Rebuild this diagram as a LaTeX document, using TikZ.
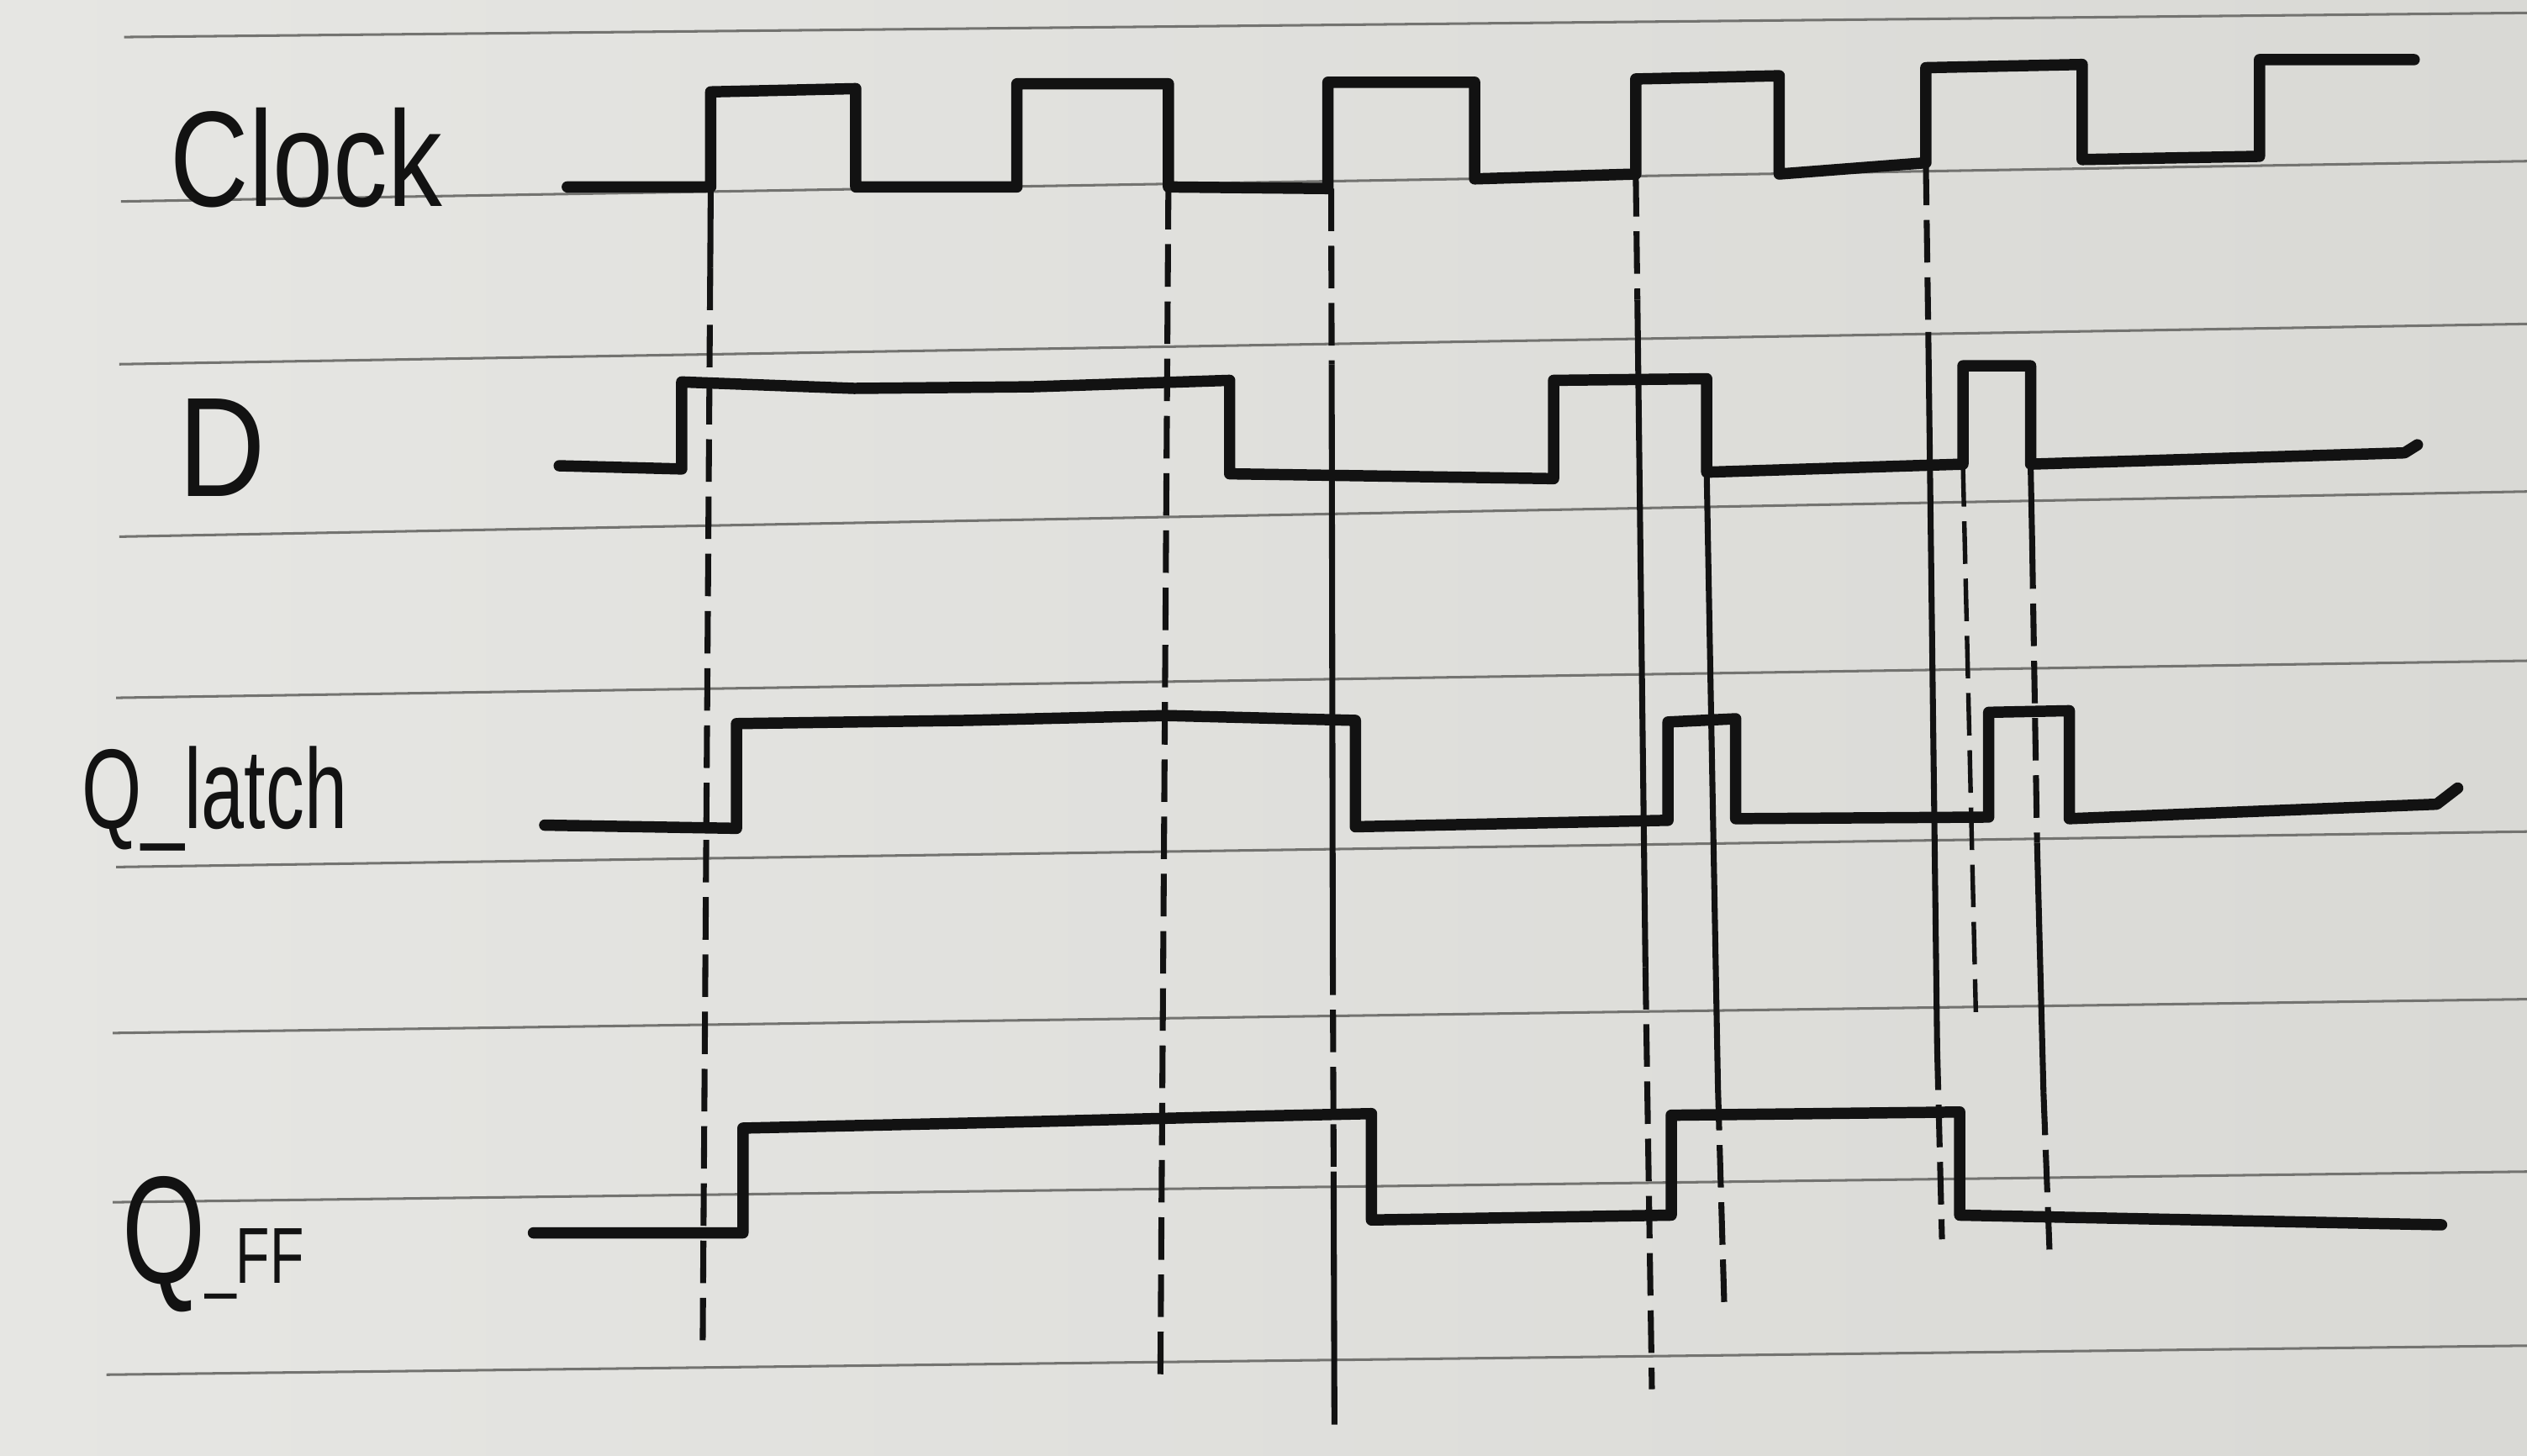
\documentclass[tikz,border=0pt]{standalone}
\usepackage{fontspec}
\setmainfont{Liberation Sans}
\definecolor{paperL}{RGB}{230,230,227}
\definecolor{paperR}{RGB}{217,217,213}
\definecolor{rulegray}{RGB}{115,115,112}
\definecolor{ink}{RGB}{18,18,18}
\begin{document}
\begin{tikzpicture}[x=0.01cm,y=-0.01cm,
  rule/.style={draw=rulegray,line width=0.45pt},
  wave/.style={draw=ink,line width=2pt,line join=round,line cap=round},
  guide/.style={draw=ink,line width=1.05pt,dash pattern=on 7.5pt off 2.6pt},
  guidesolid/.style={draw=ink,line width=1.05pt},
  lbl/.style={text=ink,inner sep=0pt,anchor=base west}]
\useasboundingbox (0,0) rectangle (1568,903);
\fill[left color=paperL,right color=paperR] (0,0) rectangle (1568,903);
% ruled lines
\draw[rule] (77,23) -- (1568,8);
\draw[rule] (75,125) -- (1568,100);
\draw[rule] (74,226) -- (1568,201);
\draw[rule] (74,333) -- (1568,305);
\draw[rule] (72,433) -- (1568,410);
\draw[rule] (72,538) -- (1568,516);
\draw[rule] (70,641) -- (1568,620);
\draw[rule] (70,746) -- (1568,727);
\draw[rule] (66,853) -- (1568,835);
% labels
\node[lbl] (lclk) at (105,128) {\scalebox{0.8}[1]{\fontsize{24}{24}\selectfont Clock}};
\node[lbl] (ld) at (110,308) {\scalebox{0.85}[1]{\fontsize{25}{25}\selectfont D}};
\node[lbl] (llatch) at (50,514) {\scalebox{0.68}[1]{\fontsize{20}{20}\selectfont Q\_latch}};
\node[lbl] (lff) at (75,796) {\scalebox{0.7}[1]{{\fontsize{27}{27}\selectfont Q}{\fontsize{14}{14}\selectfont \_FF}}};
% guide lines
\draw[guidesolid] (441,116) -- (440.7,166);
\draw[guide] (440.7,166) -- (436,838);
\draw[guide] (725,116) -- (720,858);
\draw[guide] (826,117) -- (826.3,226);
\draw[guidesolid] (826.3,226) -- (827,591);
\draw[guide] (827,591) -- (827.5,727);
\draw[guidesolid] (827.5,727) -- (828,884);
\draw[guide] (1015,108) -- (1016,186);
\draw[guidesolid] (1016,186) -- (1021,600);
\draw[guide] (1021,600) -- (1025,862);
\draw[guidesolid] (1059,293) -- (1066,675);
\draw[guide] (1066,675) -- (1070,813);
\draw[guide] (1195,101) -- (1196.5,206);
\draw[guidesolid] (1196.5,206) -- (1202,650);
\draw[guide] (1202,650) -- (1205,769);
\draw[guide,line width=0.8pt] (1218,288) -- (1226,628);
\draw[guidesolid] (1260,288) -- (1261,339);
\draw[guide] (1261,339) -- (1264,523);
\draw[guidesolid] (1264,523) -- (1268,678);
\draw[guide] (1268,678) -- (1272,783);
% Clock
\draw[wave] (352,116) -- (441,116) -- (441,57) -- (531,55) -- (531,116) -- (631,116)
  -- (631,52) -- (725,52) -- (725,116) -- (824,117) -- (824,51) -- (915,51)
  -- (915,111) -- (1015,108) -- (1015,49) -- (1104,47) -- (1104,108) -- (1195,101)
  -- (1195,42) -- (1292,40) -- (1292,99) -- (1402,97) -- (1402,37) -- (1498,37);
% D
\draw[wave] (347,289) -- (423,291) -- (423,237) -- (530,241) -- (640,240) -- (763,236)
  -- (763,294) -- (964,297) -- (964,236) -- (1059,235) -- (1059,293) -- (1218,288)
  -- (1218,227) -- (1260,227) -- (1260,288) -- (1492,281) -- (1500,276);
% Q_latch
\draw[wave] (338,512) -- (457,514) -- (457,449) -- (600,447) -- (724,444) -- (841,447)
  -- (841,513) -- (1035,509) -- (1035,448) -- (1077,446) -- (1077,508) -- (1234,507)
  -- (1234,442) -- (1284,441) -- (1284,508) -- (1512,499) -- (1525,489);
% Q_FF
\draw[wave] (331,765) -- (461,765) -- (461,700) -- (640,696) -- (760,693) -- (851,691)
  -- (851,757) -- (1037,754) -- (1037,692) -- (1216,690) -- (1216,754) -- (1515,760);
\end{tikzpicture}
\end{document}
